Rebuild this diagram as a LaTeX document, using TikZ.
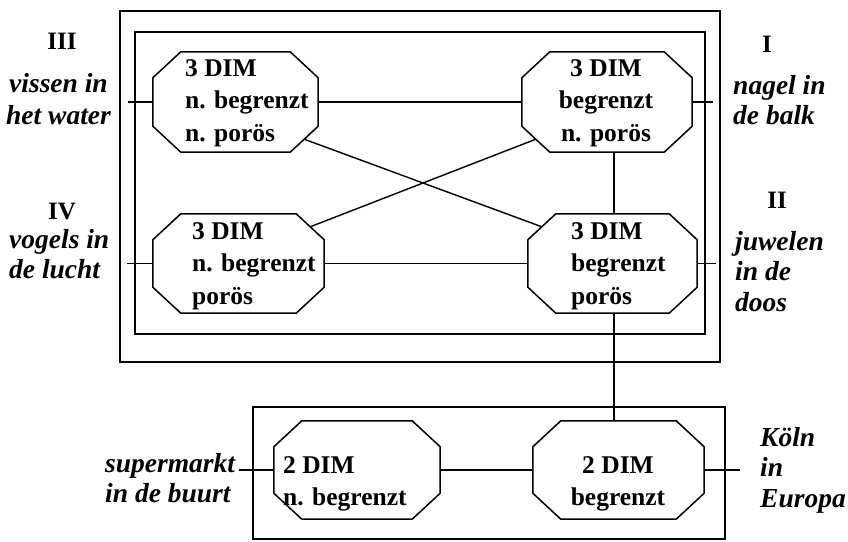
\documentclass[tikz,border=0pt]{standalone}
\usepackage{fontspec}
\setmainfont{Liberation Serif}
\usetikzlibrary{calc}
\newcommand\octcx{28}
\newcommand\octcy{26}
\newcommand\drawoct[1]{\draw[octline] ($(#1.north west)+(\octcx,0)$) -- ($(#1.north east)+(-\octcx,0)$) -- ($(#1.north east)+(0,\octcy)$) -- ($(#1.south east)+(0,-\octcy)$) -- ($(#1.south east)+(-\octcx,0)$) -- ($(#1.south west)+(\octcx,0)$) -- ($(#1.south west)+(0,-\octcy)$) -- ($(#1.north west)+(0,\octcy)$) -- cycle;}
\begin{document}
\begin{tikzpicture}[x=1pt,y=-1pt,
  octn/.style={rectangle, inner sep=0pt, draw=none},
  octline/.style={line width=1.5pt, line join=miter},
  conn/.style={line width=1.4pt},
  obox/.style={line width=2.6pt},
  ibox/.style={line width=1.3pt},
  ntxt/.style={inner sep=0pt, font=\fontsize{25.5}{32.5}\selectfont\bfseries},
  lbl/.style={inner sep=0pt, font=\fontsize{27.5}{30.5}\selectfont\bfseries\itshape},
  rom/.style={inner sep=0pt, font=\fontsize{25}{30}\selectfont\bfseries, anchor=base}]
\path[fill=white] (0,0) rectangle (848,541);
\useasboundingbox (0,0) rectangle (848,541);

% boxes
\draw[obox] (120,11) rectangle (720,362);
\draw[ibox] (135,32) rectangle (705,334);
\draw[obox] (253,407) rectangle (725,539);

% octagon anchors
\node[octn, minimum width=165pt, minimum height=100pt] (tl) at (235.5,102) {};
\node[octn, minimum width=170pt, minimum height=100pt] (tr) at (607,102) {};
\node[octn, minimum width=171pt, minimum height=99pt] (bl) at (238.5,263.5) {};
\node[octn, minimum width=169pt, minimum height=99pt] (br) at (612.5,263.5) {};
\node[octn, minimum width=166pt, minimum height=98pt] (bbl) at (357,470) {};
\node[octn, minimum width=171pt, minimum height=98pt] (bbr) at (618.5,470) {};
\drawoct{tl}\drawoct{tr}\drawoct{bl}\drawoct{br}\drawoct{bbl}\drawoct{bbr}

% texts in octagons
\node[ntxt, align=left, anchor=north west] (tlt) at (185,59) {3 DIM\\n. begrenzt\\n. porös};
\node[ntxt, align=center, anchor=north] (trt) at (606,59) {3 DIM\\begrenzt\\n. porös};
\node[ntxt, align=left, anchor=north west] (blt) at (192,222) {3 DIM\\n. begrenzt\\porös};
\node[ntxt, align=left, anchor=north west] (brt) at (571,222) {3 DIM\\begrenzt\\porös};
\node[ntxt, align=left, anchor=north west] (bblt) at (283,456) {2 DIM\\n. begrenzt};
\node[ntxt, align=center, anchor=north] (bbrt) at (618,456) {2 DIM\\begrenzt};

% helper coordinates
\coordinate (s1) at (128,102);
\coordinate (s2) at (713,102);
\coordinate (s3) at (127,263.5);
\coordinate (s4) at (716,263.5);
\coordinate (s5) at (239,470);
\coordinate (s6) at (740,470);
\coordinate (vx) at (614,0);
\coordinate (tlse) at ($(tl.south east)+(-14,-13)$);
\coordinate (brnw) at ($(br.north west)+(14,13)$);
\coordinate (trsw) at ($(tr.south west)+(14,-13)$);
\coordinate (blne) at ($(bl.north east)+(-14,13)$);

% connectors
\draw[conn] (tl) -- (tr);
\draw[conn] (bl) -- (br);
\draw[conn] (bbl) -- (bbr);
\draw[conn] (tl) -- (s1);
\draw[conn] (tr) -- (s2);
\draw[conn] (bl) -- (s3);
\draw[conn] (br) -- (s4);
\draw[conn] (bbl) -- (s5);
\draw[conn] (bbr) -- (s6);
\draw[conn] (tlse) -- (brnw);
\draw[conn] (trsw) -- (blne);
\draw[conn] (tr.south -| vx) -- (br.north -| vx);
\draw[conn] (br.south -| vx) -- (bbr.north -| vx);

% outside labels
\node[rom] (r3) at (62,49) {III};
\node[lbl, align=center, anchor=north] (l3) at (58.5,73) {vissen in\\[2pt]het water};
\node[rom] (r4) at (62,219) {IV};
\node[lbl, align=left, anchor=north west] (l4) at (9,229) {vogels in\\de lucht};
\node[rom] (r1) at (767,52) {I};
\node[lbl, align=left, anchor=north west] (l1) at (733,75) {nagel in\\de balk};
\node[rom] (r2) at (777,208) {II};
\node[lbl, align=left, anchor=north west] (l2) at (735,231) {juwelen\\in de\\doos};
\node[lbl, align=left, anchor=north west] (l5) at (105,453) {supermarkt\\in de buurt};
\node[lbl, align=left, anchor=north west] (l6) at (760,427) {Köln\\in\\Europa};
\end{tikzpicture}
\end{document}
